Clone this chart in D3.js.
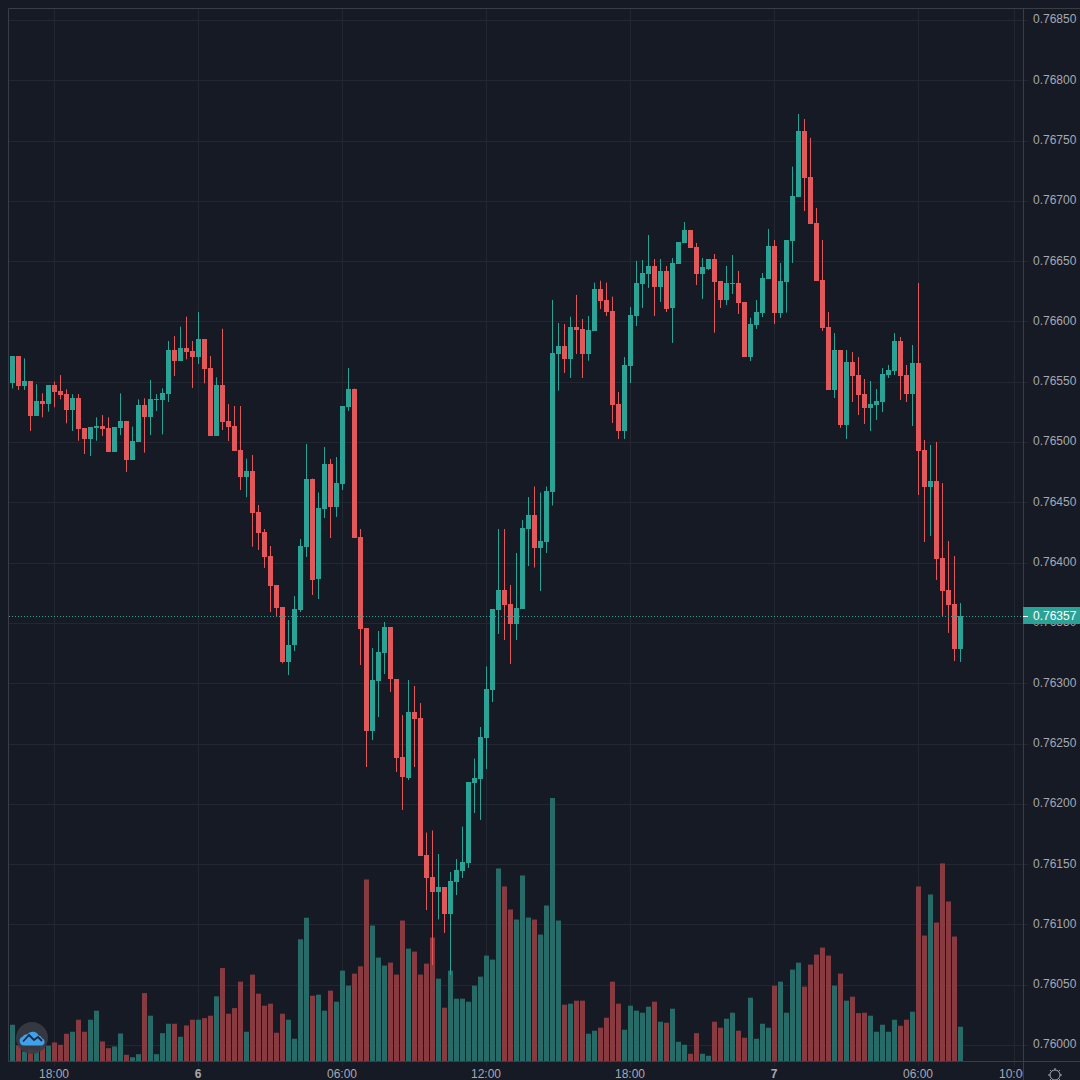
<!DOCTYPE html>
<html>
<head>
<meta charset="utf-8">
<script src="https://cdn.jsdelivr.net/npm/d3@7"></script>
<style>
html,body{margin:0;padding:0;background:#161a25;}
svg{display:block;}
text{font-family:"Liberation Sans",Arial,sans-serif;}
</style>
</head>
<body>
<svg id="chart" width="1080" height="1080"></svg>
<script>
const opens = [0.765492,0.765714,0.765465,0.765506,0.765216,0.765338,0.765315,0.765473,0.765423,0.765398,
0.765266,0.765365,0.765116,0.765028,0.765116,0.765133,0.765116,0.764917,0.765116,0.765175,
0.764851,0.765000,0.765307,0.765208,0.765349,0.765349,0.765398,0.765763,0.765672,0.765780,
0.765755,0.765705,0.765855,0.765614,0.765050,0.765473,0.765175,0.765133,0.764934,0.764710,
0.764760,0.764420,0.764254,0.764055,0.763815,0.763632,0.763176,0.763313,0.763607,0.764133,
0.764697,0.763864,0.764445,0.764818,0.764461,0.764652,0.765291,0.765444,0.764213,0.763458,
0.762604,0.763018,0.763254,0.763466,0.763035,0.762388,0.762214,0.762761,0.762712,0.761576,
0.761393,0.761269,0.761310,0.761090,0.761352,0.761443,0.761509,0.762173,0.762206,0.762546,
0.762944,0.763607,0.763773,0.763657,0.763491,0.763616,0.764279,0.764395,0.764121,0.764171,
0.764588,0.765730,0.765799,0.765689,0.765954,0.765938,0.765730,0.765921,0.766269,0.766178,
0.766087,0.765316,0.765092,0.765631,0.766045,0.766311,0.766394,0.766460,0.766286,0.766419,
0.766112,0.766477,0.766651,0.766759,0.766618,0.766394,0.766435,0.766518,0.766336,0.766178,
0.766311,0.766319,0.766162,0.765705,0.765971,0.766070,0.766352,0.766626,0.766070,0.766327,
0.766667,0.767032,0.767580,0.767198,0.766817,0.766344,0.765954,0.765432,0.765763,0.765141,
0.765664,0.765556,0.765399,0.765282,0.765307,0.765332,0.765556,0.765589,0.765838,0.765556,
0.765399,0.765656,0.764934,0.764627,0.764677,0.764039,0.763773,0.763657,0.763284];
const highs = [0.765714,0.765714,0.765694,0.765506,0.765479,0.765404,0.765473,0.765501,0.765556,0.765437,
0.765398,0.765398,0.765116,0.765125,0.765205,0.765224,0.765205,0.765125,0.765404,0.765175,
0.765128,0.765354,0.765363,0.765515,0.765398,0.765445,0.765838,0.765879,0.765957,0.766040,
0.765838,0.766079,0.765855,0.765714,0.765537,0.765940,0.765315,0.765299,0.765299,0.764862,
0.764893,0.764478,0.764279,0.764138,0.763815,0.763632,0.763524,0.763723,0.764196,0.764984,
0.764697,0.764582,0.764959,0.764860,0.764876,0.765299,0.765614,0.765444,0.764279,0.763458,
0.763292,0.763433,0.763508,0.763466,0.763035,0.762736,0.763027,0.762977,0.762836,0.761762,
0.761779,0.761584,0.761310,0.761434,0.761542,0.761811,0.762181,0.762375,0.762637,0.763139,
0.763616,0.764279,0.764279,0.763815,0.764080,0.764354,0.764544,0.764631,0.764582,0.764631,
0.766178,0.765987,0.765979,0.766040,0.766220,0.766021,0.766045,0.766322,0.766338,0.766322,
0.766206,0.765415,0.765705,0.766120,0.766502,0.766510,0.766717,0.766518,0.766518,0.766460,
0.766526,0.766659,0.766825,0.766759,0.766651,0.766526,0.766518,0.766560,0.766336,0.766460,
0.766551,0.766419,0.766162,0.766031,0.766178,0.766402,0.766767,0.766676,0.766485,0.766676,
0.767284,0.767721,0.767679,0.767522,0.766941,0.766676,0.766079,0.765904,0.765763,0.765763,
0.765747,0.765705,0.765523,0.765506,0.765440,0.765614,0.765639,0.765904,0.765871,0.765639,
0.765805,0.766319,0.765017,0.764976,0.765001,0.764660,0.764179,0.764055,0.763665];
const lows = [0.765445,0.765432,0.765432,0.765092,0.765216,0.765205,0.765252,0.765288,0.765354,0.765155,
0.765092,0.765011,0.764901,0.764884,0.765011,0.765050,0.764917,0.764917,0.765058,0.764752,
0.764851,0.765000,0.764912,0.765058,0.765257,0.765064,0.765332,0.765548,0.765672,0.765686,
0.765448,0.765647,0.765487,0.765050,0.765050,0.765100,0.765009,0.764926,0.764602,0.764542,
0.764132,0.764105,0.763956,0.763591,0.763552,0.763165,0.763068,0.763267,0.763591,0.764047,
0.763732,0.763698,0.764370,0.764204,0.764379,0.764602,0.765258,0.764204,0.763151,0.762305,
0.762529,0.762720,0.763076,0.762927,0.762264,0.761949,0.762197,0.762305,0.761571,0.761119,
0.760663,0.761041,0.760929,0.760580,0.761244,0.761385,0.761468,0.761924,0.761866,0.762289,
0.762844,0.763408,0.763358,0.763159,0.763358,0.763616,0.763972,0.763959,0.763765,0.764080,
0.764474,0.765426,0.765573,0.765531,0.765730,0.765531,0.765675,0.765921,0.766103,0.766045,
0.765158,0.765025,0.765025,0.765490,0.765962,0.766112,0.766278,0.766045,0.766162,0.766079,
0.765822,0.766477,0.766651,0.766609,0.766302,0.766186,0.766427,0.765907,0.766112,0.766137,
0.766228,0.766062,0.765705,0.765672,0.765938,0.766037,0.766352,0.765979,0.766029,0.766073,
0.766485,0.767032,0.766916,0.766808,0.766336,0.765921,0.765432,0.765365,0.765117,0.765025,
0.765332,0.765224,0.765150,0.765092,0.765183,0.765249,0.765531,0.765556,0.765349,0.765332,
0.765133,0.764561,0.764171,0.764221,0.763856,0.763549,0.763417,0.763184,0.763176];
const closes = [0.765714,0.765465,0.765506,0.765216,0.765338,0.765315,0.765473,0.765415,0.765387,0.765266,
0.765365,0.765111,0.765028,0.765125,0.765133,0.765111,0.764917,0.765125,0.765175,0.764851,
0.765009,0.765304,0.765208,0.765357,0.765360,0.765407,0.765763,0.765672,0.765780,0.765747,
0.765705,0.765855,0.765606,0.765050,0.765473,0.765166,0.765125,0.764926,0.764710,0.764760,
0.764412,0.764246,0.764047,0.763806,0.763624,0.763176,0.763317,0.763616,0.764138,0.764697,
0.763860,0.764453,0.764818,0.764461,0.764660,0.765299,0.765444,0.764204,0.763450,0.762604,
0.763027,0.763259,0.763466,0.763031,0.762380,0.762222,0.762761,0.762703,0.761571,0.761385,
0.761269,0.761310,0.761090,0.761360,0.761451,0.761517,0.762181,0.762214,0.762554,0.762952,
0.763616,0.763773,0.763649,0.763491,0.763624,0.764287,0.764395,0.764121,0.764179,0.764594,
0.765739,0.765799,0.765689,0.765954,0.765929,0.765730,0.765929,0.766269,0.766170,0.766079,
0.765307,0.765092,0.765639,0.766054,0.766319,0.766402,0.766460,0.766286,0.766419,0.766106,
0.766485,0.766659,0.766759,0.766609,0.766394,0.766452,0.766518,0.766327,0.766178,0.766319,
0.766319,0.766153,0.765705,0.765979,0.766079,0.766361,0.766626,0.766070,0.766336,0.766676,
0.767041,0.767580,0.767190,0.766808,0.766336,0.765946,0.765432,0.765763,0.765141,0.765664,
0.765548,0.765390,0.765282,0.765316,0.765340,0.765564,0.765598,0.765838,0.765548,0.765399,
0.765656,0.764926,0.764627,0.764677,0.764030,0.763765,0.763649,0.763284,0.763558];
const volumes = [36.7,16,10,12,11,21,15.7,19,16.7,27.7,
29.7,41.7,29.7,41.7,50.7,20,13.3,15,28,6.7,
4.3,7.3,68.3,45.7,7.3,28.3,37.7,37.7,24.7,36,
41.7,41.7,43.3,45.7,65,93.3,47.7,53.3,79.7,29.7,
86.7,67.7,55.7,57.7,28.7,47.7,41.7,22.7,122,143.5,
65.7,66.7,50.7,70.7,59.7,90.7,75.7,87.7,95,181.7,
135.7,103.7,95.7,98.7,86.7,140.7,112.7,109.7,86.7,97.7,
123.7,82.7,53.7,90.7,62.7,62.7,59.7,75.7,84.7,105.7,
101.7,192.7,174.7,151.7,141.7,185.7,143.7,141.7,126.7,155.7,
263,140.7,56.7,57.7,60.7,60.7,27.7,30.7,33.7,43.7,
79.7,57.7,31.7,55.7,50.7,48.7,54.7,59.7,39.7,38.7,
52.7,19.7,16.7,7.7,28.3,7.7,5.7,39.7,33.7,42.7,
48.7,30.7,23.7,63.7,22.7,37.7,33.7,75.7,79.7,48.7,
91.7,98.7,74.7,96.7,106.7,113.7,105.7,75.7,87.7,60.7,
64.7,48.3,48.7,45.7,29.7,36.7,29.7,41.7,35.7,41.7,
49.7,174.7,125.7,166.7,138.7,197.7,159.7,124.7,34.7];
const priceTicks = ["0.76850","0.76800","0.76750","0.76700","0.76650","0.76600","0.76550","0.76500","0.76450","0.76400","0.76350","0.76300","0.76250","0.76200","0.76150","0.76100","0.76050","0.76000"];
const timeTickIndex = [7,31,55,79,103,127,151,167];
const timeTickLabels = ["18:00","6","06:00","12:00","18:00","7","06:00","10:00"];
const lastPriceLabel = "0.76357";

const COL = {bg:"#161a25",grid:"#232732",border:"#3a3d47",text:"#a6a9b2",up:"#2ba296",down:"#e2585a",volUp:"#266b68",volDown:"#873a40"};
const plot = {l:8.5,r:1023.5,t:8.5,b:1061.5};
const svg = d3.select("#chart");
svg.append("rect").attr("width",1080).attr("height",1080).attr("fill",COL.bg);

const x = d3.scaleLinear().domain([0,1]).range([12.5,18.5]);
const y = d3.scaleLinear().domain([0.76,0.7685]).range([1045,20]);
const v = d3.scaleLinear().domain([0,263]).range([plot.b,798]);

const defs = svg.append("defs");
defs.append("clipPath").attr("id","timeClip").append("rect").attr("x",0).attr("y",1062).attr("width",1023).attr("height",18);

// grid
const gridY = priceTicks.map(Number);
svg.append("g").selectAll("line").data(gridY).join("line")
  .attr("x1",plot.l).attr("x2",plot.r+5)
  .attr("y1",d=>Math.round(y(d))+.5).attr("y2",d=>Math.round(y(d))+.5)
  .attr("stroke",COL.grid);
svg.append("g").selectAll("line").data(timeTickIndex).join("line")
  .attr("y1",plot.t).attr("y2",plot.b+5)
  .attr("x1",d=>Math.floor(x(d))+.5).attr("x2",d=>Math.floor(x(d))+.5)
  .attr("stroke",COL.grid);

// volume
svg.append("g").selectAll("rect").data(volumes).join("rect")
  .attr("x",(d,i)=>x(i)-2.5).attr("width",5)
  .attr("y",d=>v(d)).attr("height",d=>plot.b-v(d))
  .attr("fill",(d,i)=>closes[i]>=opens[i]?COL.volUp:COL.volDown);

// frame
svg.append("g").attr("fill","none").attr("stroke",COL.border).call(g=>{
  g.append("line").attr("x1",plot.l).attr("x2",1080).attr("y1",plot.t).attr("y2",plot.t);
  g.append("line").attr("x1",plot.l).attr("x2",plot.l).attr("y1",plot.t).attr("y2",plot.b);
  g.append("line").attr("x1",plot.r).attr("x2",plot.r).attr("y1",plot.t).attr("y2",1080);
  g.append("line").attr("x1",plot.l).attr("x2",1080).attr("y1",plot.b).attr("y2",plot.b);
});

// candles
const candles = svg.append("g");
candles.selectAll("line").data(d3.range(opens.length)).join("line")
  .attr("x1",i=>x(i)).attr("x2",i=>x(i))
  .attr("y1",i=>y(highs[i])).attr("y2",i=>y(lows[i]))
  .attr("stroke",i=>closes[i]>=opens[i]?COL.up:COL.down).attr("stroke-width",1);
candles.selectAll("rect").data(d3.range(opens.length)).join("rect")
  .attr("x",i=>x(i)-2.5).attr("width",5)
  .attr("y",i=>Math.round(y(Math.max(opens[i],closes[i]))))
  .attr("height",i=>Math.max(1,Math.round(y(Math.min(opens[i],closes[i])))-Math.round(y(Math.max(opens[i],closes[i])))))
  .attr("fill",i=>closes[i]>=opens[i]?COL.up:COL.down);

// last price line
const lastClose = closes[closes.length-1];
const tagY = Math.round(y(lastClose));
svg.append("line").attr("x1",9).attr("x2",plot.r)
  .attr("y1",tagY+.5).attr("y2",tagY+.5)
  .attr("stroke",COL.up).attr("stroke-dasharray","1 2");

// price axis labels
svg.append("g").selectAll("text").data(priceTicks).join("text")
  .attr("x",1033).attr("y",d=>y(+d)+3.4).attr("font-size",12).attr("fill",COL.text).text(d=>d);

// price tag
svg.append("rect").attr("x",1023).attr("y",tagY-9).attr("width",57).attr("height",17).attr("fill",COL.up);
svg.append("line").attr("x1",1023).attr("x2",1028).attr("y1",tagY+.5).attr("y2",tagY+.5).attr("stroke","#fff");
svg.append("text").attr("x",1033).attr("y",tagY+4).attr("font-size",12).attr("fill","#fff").text(lastPriceLabel);

// time axis labels
svg.append("g").attr("clip-path","url(#timeClip)").selectAll("text").data(timeTickIndex).join("text")
  .attr("x",d=>x(d)-.5).attr("y",1078).attr("text-anchor","middle").attr("font-size",12)
  .attr("font-weight",(d,i)=>/^\d$/.test(timeTickLabels[i])?"bold":"normal")
  .attr("fill",COL.text).text((d,i)=>timeTickLabels[i]);

// watermark logo
const logo = svg.append("g").attr("transform","translate(32,1038)");
logo.append("circle").attr("r",16).attr("fill","#3a3c46").attr("fill-opacity",.88);
logo.append("path").attr("d","M-8,7.5 a4.5,4.5 0 0 1 -1.5,-8.7 a4.5,4.5 0 0 1 5,-2.5 a6.5,6.5 0 0 1 11,1 a4.5,4.5 0 0 1 3.5,3 a3.8,3.8 0 0 1 0,7.2 z").attr("fill","#3fa0ee");
logo.append("path").attr("d","M-9,3.5 L-3,-3 L2,2 L6,-1 L10,3").attr("fill","none").attr("stroke","#1c2a3f").attr("stroke-width",1.8);

// settings gear
const gear = svg.append("g").attr("transform","translate(1055,1075)").attr("fill","none").attr("stroke",COL.text).attr("stroke-width",1);
gear.append("circle").attr("r",5);
d3.range(8).forEach(k=>{
  const a=k*Math.PI/4;
  gear.append("line").attr("x1",5*Math.cos(a)).attr("y1",5*Math.sin(a)).attr("x2",7*Math.cos(a)).attr("y2",7*Math.sin(a));
});
</script>
</body>
</html>
